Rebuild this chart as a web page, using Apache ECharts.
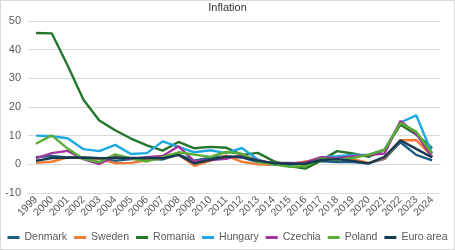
<!DOCTYPE html>
<html><head><meta charset="utf-8">
<script src="https://cdn.jsdelivr.net/npm/echarts@6/dist/echarts.min.js"></script>
<style>html,body{margin:0;padding:0;background:#fff}#c{width:453px;height:248px;border:1px solid #d9d9d9}</style>
</head><body><div id="c"></div>
<script>
const years = ['1999','2000','2001','2002','2003','2004','2005','2006','2007','2008','2009','2010','2011','2012','2013','2014','2015','2016','2017','2018','2019','2020','2021','2022','2023','2024'];
const denmark = [2.5,2.9,2.4,2.4,2.1,1.2,1.8,1.9,1.7,3.4,1.3,2.3,2.8,2.4,0.8,0.6,0.5,0.3,1.1,0.8,0.8,0.4,1.9,7.7,3.3,1.4];
const sweden = [0.5,0.9,2.4,2.2,1.9,0.4,0.5,1.4,2.2,3.4,-0.5,1.2,3.0,0.9,0.0,-0.2,0.0,1.0,1.8,2.0,1.8,0.5,2.2,8.4,8.5,2.8];
const romania = [45.8,45.7,34.5,22.5,15.3,11.9,9.0,6.6,4.8,7.8,5.6,6.1,5.8,3.3,4.0,1.1,-0.6,-1.5,1.3,4.6,3.8,2.6,5.1,13.8,10.4,5.6];
const hungary = [10.0,9.8,9.1,5.3,4.6,6.8,3.6,3.9,8.0,6.1,4.2,4.9,3.9,5.7,1.7,-0.2,-0.1,0.4,2.4,2.8,3.3,3.3,5.1,14.6,17.1,3.7];
const czechia = [2.1,3.9,4.7,1.8,0.1,2.8,1.9,2.5,2.9,6.3,1.0,1.5,1.9,3.3,1.4,0.4,0.3,0.7,2.5,2.1,2.8,3.2,3.8,15.1,10.7,2.4];
const poland = [7.2,10.1,5.5,1.9,0.8,3.5,2.1,1.0,2.5,4.2,3.4,2.6,4.3,3.7,0.9,0.0,-0.9,-0.6,2.0,1.6,2.2,3.4,5.1,14.4,11.4,3.8];
const euroArea = [1.2,2.2,2.4,2.3,2.1,2.2,2.2,2.2,2.1,3.3,0.3,1.6,2.7,2.5,1.3,0.4,0.2,0.2,1.5,1.8,1.2,0.3,2.6,8.4,5.4,2.4];

const names = ['Denmark','Sweden','Romania','Hungary','Czechia','Poland','Euro area'];
const colors = ['#1f5f85','#f07b37','#24762a','#1ea9e3','#a2369c','#5aae35','#163a50'];
const datas = [denmark,sweden,romania,hungary,czechia,poland,euroArea];

const chart = echarts.init(document.getElementById('c'));
chart.setOption({
  animation:false,
  color: colors,
  title:{text:'Inflation',left:'center',top:-4,textStyle:{fontSize:11,fontWeight:'normal',color:'#333',fontFamily:'Liberation Sans, Arial, sans-serif'}},
  legend:{bottom:6,left:'center',width:453,padding:0,itemWidth:12,itemHeight:3,itemGap:7,icon:'rect',
    textStyle:{fontSize:10.5,color:'#595959',fontFamily:'Liberation Sans, Arial, sans-serif'},data:names},
  grid:{left:27,right:14,top:20,bottom:56,containLabel:false},
  xAxis:{type:'category',data:years,boundaryGap:true,
    axisLine:{onZero:true,lineStyle:{color:'#d9d9d9'}},axisTick:{show:false},
    axisLabel:{rotate:45,interval:0,fontSize:10.5,color:'#595959',margin:5,fontFamily:'Liberation Sans, Arial, sans-serif'}},
  yAxis:{type:'value',min:-10,max:50,interval:10,
    axisLine:{show:false},axisTick:{show:false},
    splitLine:{lineStyle:{color:'#d9d9d9'}},
    axisLabel:{fontSize:11,color:'#595959',margin:7,fontFamily:'Liberation Sans, Arial, sans-serif'}},
  series: names.map((n,i)=>({name:n,type:'line',data:datas[i],showSymbol:false,symbol:'none',lineStyle:{width:2.4,color:colors[i]},itemStyle:{color:colors[i]}}))
});
</script></body></html>
